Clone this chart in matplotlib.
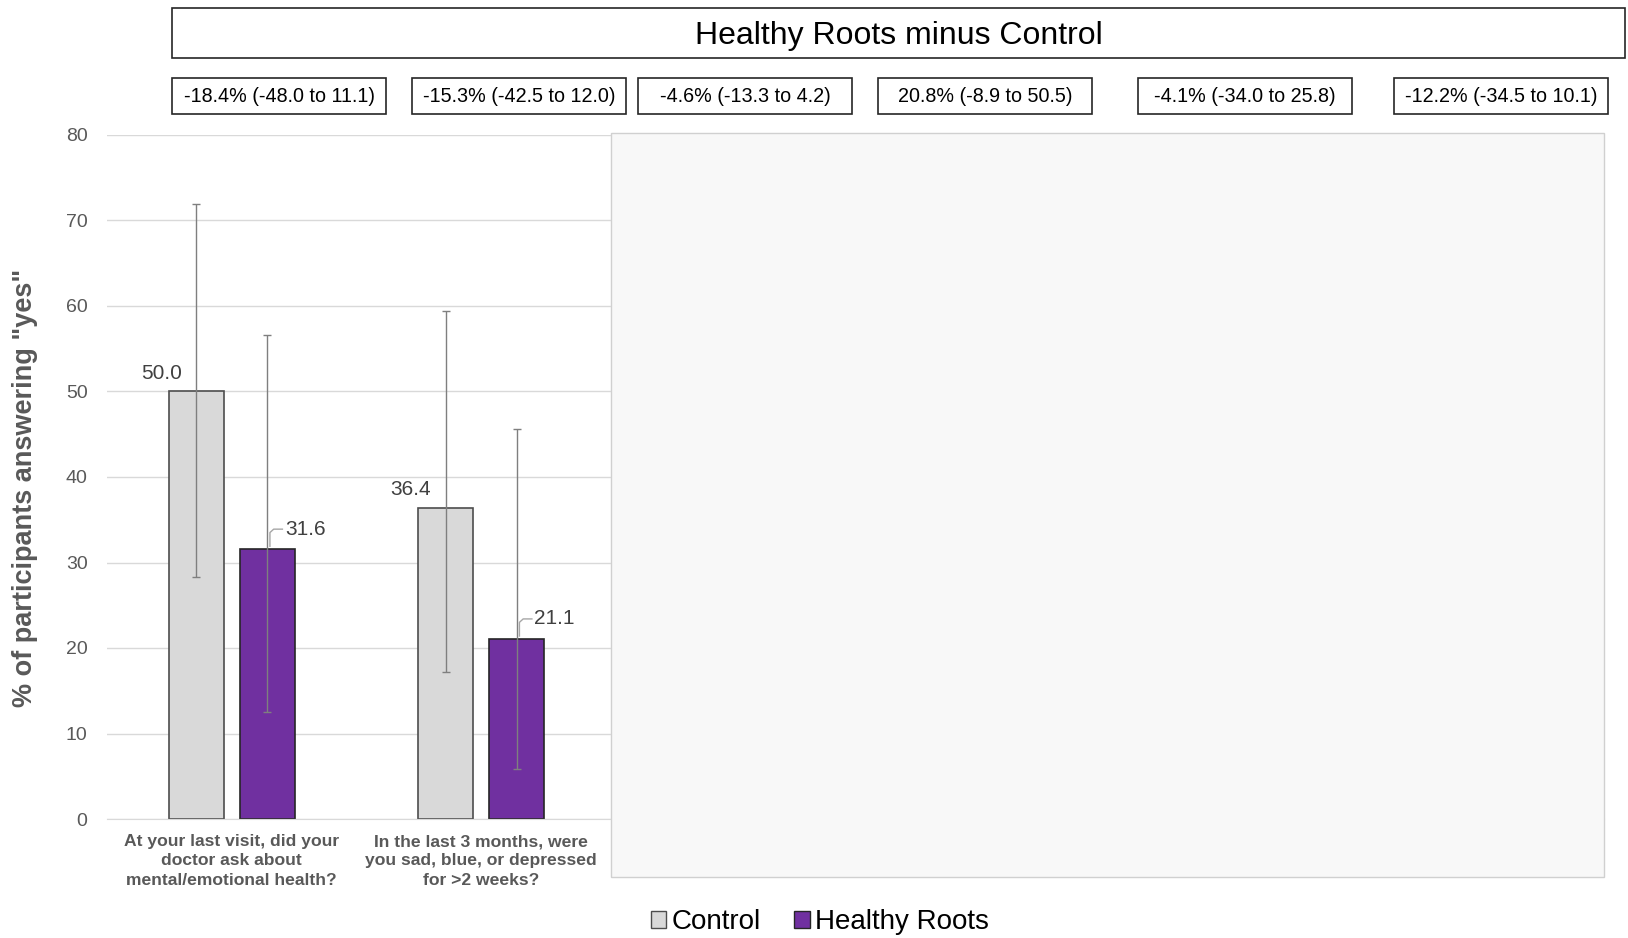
import matplotlib
matplotlib.use("Agg")
import matplotlib.pyplot as plt
import matplotlib.patches as mpatches

# data
questions = [
    "At your last visit, did your\ndoctor ask about\nmental/emotional health?",
    "In the last 3 months, were\nyou sad, blue, or depressed\nfor >2 weeks?",
]
control = [50.0, 36.4]
control_lo = [28.3, 17.2]
control_hi = [71.9, 59.4]
roots = [31.6, 21.1]
roots_lo = [12.5, 5.9]
roots_hi = [56.6, 45.6]
n_slots = 6

diff_labels = [
    "-18.4% (-48.0 to 11.1)",
    "-15.3% (-42.5 to 12.0)",
    "-4.6% (-13.3 to 4.2)",
    "20.8% (-8.9 to 50.5)",
    "-4.1% (-34.0 to 25.8)",
    "-12.2% (-34.5 to 10.1)",
]
# left/right pixel edges of the difference boxes
diff_box_x = [(172, 386), (412, 626), (638, 852), (878, 1092), (1138, 1352), (1394, 1608)]

W, H = 1628, 938
GREY_TXT = "#595959"
NARROW = ["Liberation Sans Narrow", "Liberation Sans", "DejaVu Sans"]
SANS = ["Liberation Sans", "DejaVu Sans"]


def fx(px):
    return px / W


def fy(py):
    return 1 - py / H


fig = plt.figure(figsize=(W / 100, H / 100), dpi=100, facecolor="white")
ax = fig.add_axes([fx(107), fy(819), fx(1604 - 107), (819 - 135) / H])

x = list(range(len(questions)))
bw, off = 0.22, 0.143
xc = [i - off for i in x]
xr = [i + off for i in x]

ax.bar(xc, control, width=bw, color="#d9d9d9", edgecolor="#4d4d4d", lw=1.2, zorder=2)
ax.bar(xr, roots, width=bw, color="#7030a0", edgecolor="#262626", lw=1.2, zorder=2)

ax.errorbar(xc, control,
            yerr=[[c - l for c, l in zip(control, control_lo)],
                  [h - c for c, h in zip(control, control_hi)]],
            fmt="none", ecolor="#7f7f7f", elinewidth=1.0, capsize=3, capthick=1.0, zorder=3)
ax.errorbar(xr, roots,
            yerr=[[r - l for r, l in zip(roots, roots_lo)],
                  [h - r for r, h in zip(roots, roots_hi)]],
            fmt="none", ecolor="#7f7f7f", elinewidth=1.0, capsize=3, capthick=1.0, zorder=3)

for xi, v in zip(xc, control):
    ax.text(xi - 0.14, v + 1.0, f"{v:.1f}", ha="center", va="bottom",
            fontsize=15, color="#404040", family=SANS)
for xi, v in zip(xr, roots):
    ax.plot([xi + 0.01, xi + 0.01, xi + 0.025, xi + 0.06],
            [v + 0.3, v + 1.9, v + 2.3, v + 2.3], color="#a6a6a6", lw=1, zorder=4)
    ax.text(xi + 0.07, v + 2.3, f"{v:.1f}", ha="left", va="center",
            fontsize=15, color="#404040", family=SANS)

ax.set_xlim(-0.5, n_slots - 0.5)
ax.set_ylim(0, 80)
ax.set_yticks(range(0, 81, 10))
ax.set_xticks(x)
ax.set_xticklabels(questions, fontsize=12.6, fontweight="bold", color=GREY_TXT,
                   family=SANS, linespacing=1.35)
ax.tick_params(axis="x", length=0, pad=11)
ax.tick_params(axis="y", length=0, pad=14, labelsize=14, labelcolor=GREY_TXT)
for lab in ax.get_yticklabels():
    lab.set_family(SANS)
ax.grid(axis="y", color="#d9d9d9", lw=1, zorder=0)
ax.set_axisbelow(True)
for s in ["top", "right", "left"]:
    ax.spines[s].set_visible(False)
ax.spines["bottom"].set_color("#d9d9d9")

fig.text(fx(25), fy(488), '% of participants answering "yes"', rotation=90,
         ha="center", va="center", fontsize=19.5, fontweight="bold",
         color=GREY_TXT, family=SANS)

# empty panel covering the unused slots
fig.add_artist(mpatches.Rectangle((fx(611), fy(877)), fx(1604 - 611), (877 - 133) / H,
                                  transform=fig.transFigure, facecolor="#f8f8f8",
                                  edgecolor="#d0d0d0", lw=1, zorder=5))

# header box
fig.add_artist(mpatches.Rectangle((fx(172), fy(58)), fx(1625 - 172), 50 / H,
                                  transform=fig.transFigure, facecolor="white",
                                  edgecolor="#262626", lw=1.2, zorder=5))
fig.text(fx((172 + 1625) / 2), fy(36), "Healthy Roots minus Control", ha="center",
         va="center", fontsize=23, color="black", family=NARROW, zorder=6)

for (x0, x1), lab in zip(diff_box_x, diff_labels):
    fig.add_artist(mpatches.Rectangle((fx(x0), fy(114)), fx(x1 - x0), 36 / H,
                                      transform=fig.transFigure, facecolor="white",
                                      edgecolor="#262626", lw=1.2, zorder=5))
    fig.text(fx((x0 + x1) / 2), fy(97), lab, ha="center", va="center",
             fontsize=14.2, color="black", family=NARROW, zorder=6)

handles = [
    mpatches.Patch(facecolor="#d9d9d9", edgecolor="#4d4d4d", label="Control"),
    mpatches.Patch(facecolor="#7030a0", edgecolor="#262626", label="Healthy Roots"),
]
fig.legend(handles=handles, loc="center", bbox_to_anchor=(fx(820), fy(922)), ncol=2,
           frameon=False, prop={"family": NARROW, "size": 20}, handlelength=0.55,
           handleheight=0.55, handletextpad=0.2, columnspacing=1.2)

plt.savefig("out.png", dpi=100, facecolor="white")
plt.close()
